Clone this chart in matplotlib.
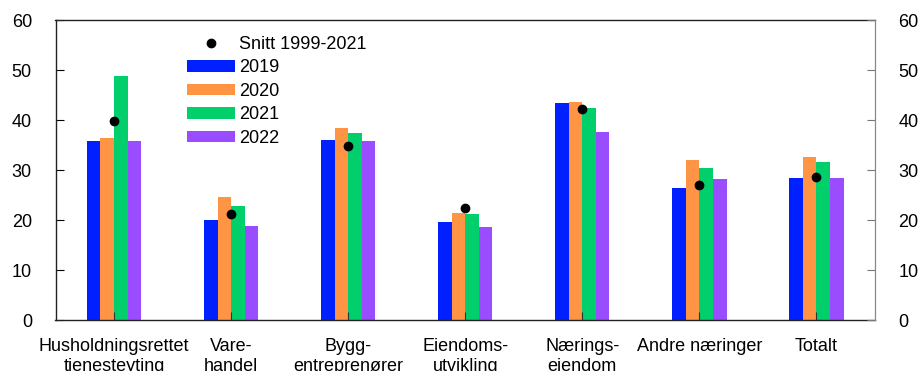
import matplotlib.pyplot as plt
from matplotlib.lines import Line2D
from matplotlib.patches import Patch
import numpy as np

plt.rcParams['font.family'] = ['Liberation Sans', 'DejaVu Sans']

categories = ["Husholdningsrettet\ntjenesteyting", "Vare-\nhandel", "Bygg-\nentreprenører",
              "Eiendoms-\nutvikling", "Nærings-\neiendom", "Andre næringer", "Totalt"]
v2019 = [35.9, 20.1, 36.1, 19.7, 43.5, 26.5, 28.5]
v2020 = [36.5, 24.7, 38.5, 21.5, 43.7, 32.1, 32.7]
v2021 = [48.9, 22.9, 37.5, 21.3, 42.5, 30.5, 31.7]
v2022 = [35.9, 18.9, 35.9, 18.7, 37.7, 28.3, 28.5]
snitt = [39.8, 21.3, 34.8, 22.5, 42.3, 27.1, 28.7]

series = [("2019", v2019, "#0020ff"), ("2020", v2020, "#ff9444"),
          ("2021", v2021, "#00cf6c"), ("2022", v2022, "#9a4dff")]

fs = 13

fig = plt.figure(figsize=(9.18, 3.71), dpi=100)
ax = fig.add_axes([55.5 / 918, 50.7 / 371, 819.5 / 918, 300 / 371])

x = np.arange(len(categories))
w = 0.116
for i, (name, vals, col) in enumerate(series):
    ax.bar(x + (i - 1.5) * w, vals, width=w, color=col, zorder=1)
ax.plot(x, snitt, 'o', color='black', markersize=6, zorder=3, linestyle='none')

ax.set_xlim(-0.5, len(categories) - 0.5)
ax.set_ylim(0, 60)
ax.set_yticks(range(0, 61, 10))
ax.set_xticks(x)
ax.set_xticklabels(categories, fontsize=fs, linespacing=1.2)
ax.tick_params(axis='y', direction='in', length=6, pad=17, labelsize=fs, width=0.8)
ax.tick_params(axis='x', direction='in', length=6, pad=13, width=0.8, color='#333333')
for s in ['left', 'top', 'bottom']:
    ax.spines[s].set_color('#222222')
    ax.spines[s].set_linewidth(1)
ax.spines['right'].set_color('#888888')

ax2 = ax.twinx()
ax2.set_ylim(0, 60)
ax2.set_yticks(range(0, 61, 10))
ax2.tick_params(axis='y', direction='in', length=6, pad=17, labelsize=fs, width=0.8, color='#777777')
ax2.spines['right'].set_color('#888888')
for s in ['left', 'top', 'bottom']:
    ax2.spines[s].set_visible(False)

handles = [Line2D([], [], marker='o', color='black', linestyle='none', markersize=6)]
labels = ["Snitt 1999-2021"]
for name, vals, col in series:
    handles.append(Patch(facecolor=col, edgecolor='none'))
    labels.append(name)
ax.legend(handles, labels, loc='upper left', bbox_to_anchor=(0.16, 0.948), frameon=False,
          fontsize=fs, handlelength=2.7, handleheight=0.6, handletextpad=0.2,
          labelspacing=0.36, borderpad=0, borderaxespad=0)

fig.savefig('out.png', dpi=100)
